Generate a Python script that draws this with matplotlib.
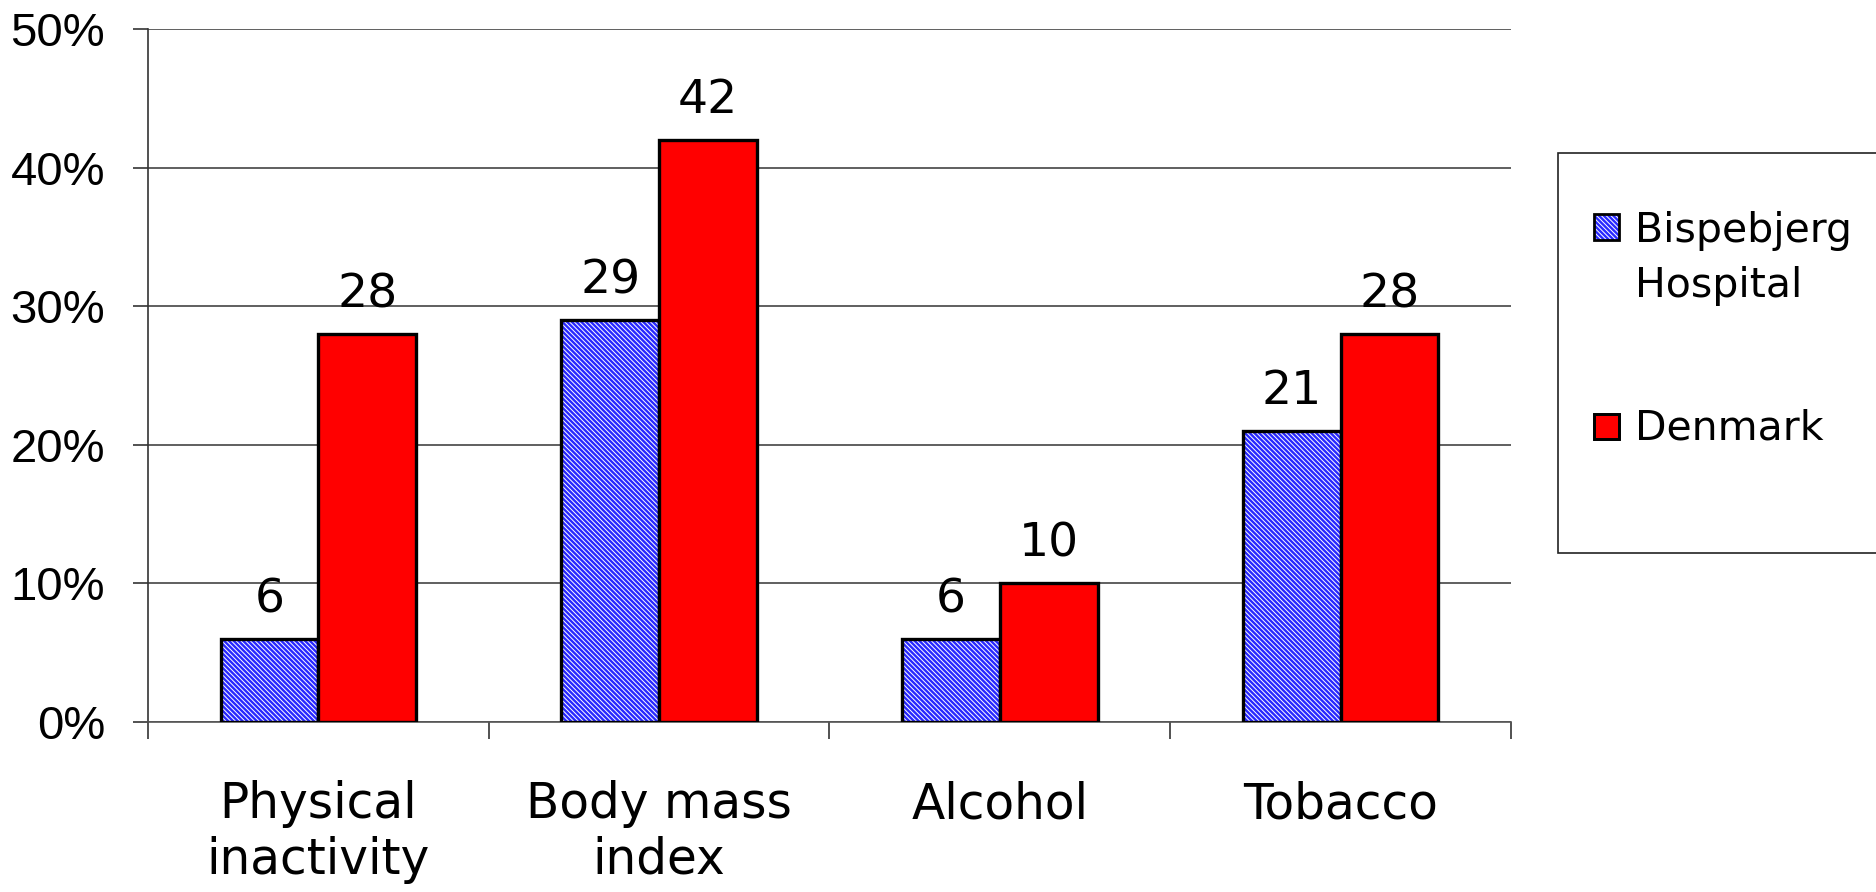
import numpy as np
import matplotlib.pyplot as plt
from matplotlib.patches import Rectangle

categories = ['Physical\ninactivity', 'Body mass\nindex', 'Alcohol', 'Tobacco']
bispebjerg = [6, 29, 6, 21]
denmark = [28, 42, 10, 28]
series_names = ['Bispebjerg\nHospital', 'Denmark']
yticks = [0, 10, 20, 30, 40, 50]

blue = '#2828ff'
red = '#ff0000'
hatch = '\\' * 7
plt.rcParams['hatch.linewidth'] = 0.7

fig = plt.figure(figsize=(18.76, 8.92), dpi=100)
ax = fig.add_axes([0.0789, 0.1906, 0.7265, 0.7769])

x = np.arange(len(categories))
w = 0.287

# blue bars: hatched fill first, then a black outline on top
ax.bar(x - w / 2, bispebjerg, w, color=blue, edgecolor='white', hatch=hatch, linewidth=0, zorder=3)
b1 = ax.bar(x - w / 2, bispebjerg, w, fill=False, edgecolor='black', linewidth=2.4, zorder=4)
b2 = ax.bar(x + w / 2, denmark, w, color=red, edgecolor='black', linewidth=2.4, zorder=4)

ax.bar_label(b1, labels=[str(v) for v in bispebjerg], padding=12, fontsize=34, family='DejaVu Sans')
ax.bar_label(b2, labels=[str(v) for v in denmark], padding=12, fontsize=34, family='DejaVu Sans')

ax.set_xlim(-0.5, len(categories) - 0.5)
ax.set_ylim(0, 50)
ax.set_yticks(yticks)
ax.set_yticklabels([f'{v}%' for v in yticks], fontsize=34, family='Liberation Sans')
ax.tick_params(axis='y', length=11, width=1.2, pad=20, color='#333333')

ax.set_xticks(x)
ax.set_xticklabels(categories, fontsize=35, family='DejaVu Sans', linespacing=1.2)
ax.set_xticks(np.arange(len(categories) + 1) - 0.5, minor=True)
ax.tick_params(axis='x', which='major', length=0, pad=42)
ax.tick_params(axis='x', which='minor', length=12, width=1.2, color='#333333')

ax.yaxis.grid(True, color='#444444', linewidth=1.2, zorder=0)
ax.set_axisbelow(True)
for s in ['top', 'right']:
    ax.spines[s].set_visible(False)
ax.spines['left'].set_color('#333333')
ax.spines['left'].set_linewidth(1.2)
ax.spines['bottom'].set_color('#555555')
ax.spines['bottom'].set_linewidth(1.2)

# legend: box runs past the right edge of the figure
W, H = 1876, 892
fig.patches.append(Rectangle((1558 / W, 1 - 553 / H), 0.3, 400 / H, transform=fig.transFigure,
                             facecolor='white', edgecolor='#222222', linewidth=1.2))
sq = 25
keys = [(227, 242, dict(facecolor=blue, edgecolor='white', hatch=hatch, linewidth=0)),
        (426, 440, dict(facecolor=red, edgecolor='black', linewidth=2))]
for (yc, base, style), name in zip(keys, series_names):
    corner = (1594 / W, 1 - (yc + sq / 2) / H)
    fig.patches.append(Rectangle(corner, sq / W, sq / H, transform=fig.transFigure, **style))
    fig.patches.append(Rectangle(corner, sq / W, sq / H, transform=fig.transFigure,
                                 fill=False, edgecolor='black', linewidth=2))
    for i, line in enumerate(name.split('\n')):
        fig.text(1635 / W, 1 - (base + 55 * i) / H, line, fontsize=29.5, family='DejaVu Sans',
                 va='baseline', ha='left')

fig.savefig('out.png', dpi=100)
